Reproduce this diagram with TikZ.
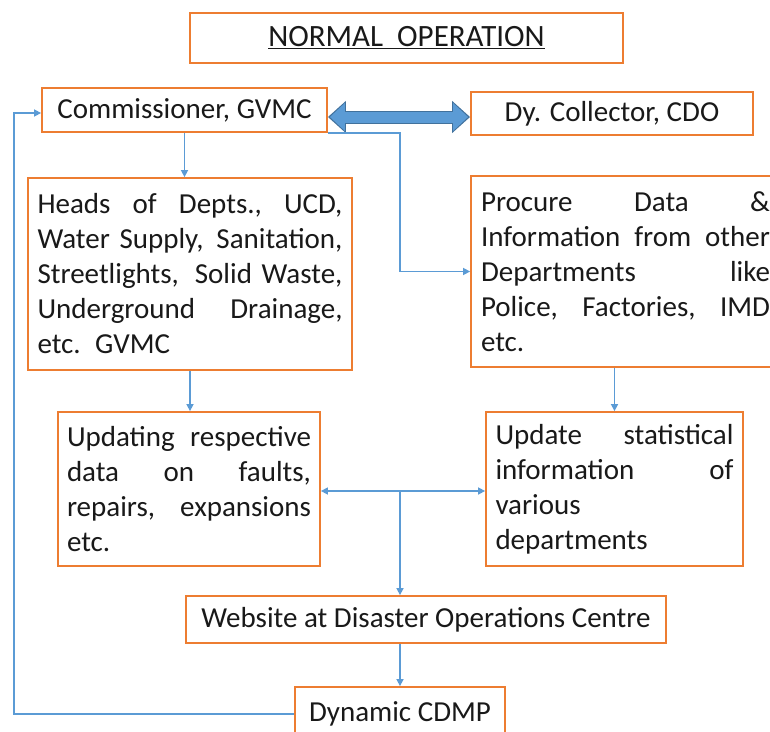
\documentclass[tikz,border=0pt]{standalone}
\usepackage{fontspec}
\setmainfont{Carlito}
\usetikzlibrary{arrows.meta}
\definecolor{boxorange}{RGB}{237,125,49}
\definecolor{linkblue}{RGB}{91,155,213}
\definecolor{arrowedge}{RGB}{65,113,156}
% one justified line of a given width; words are spread by \hfill
\newcommand{\jline}[2]{\leavevmode\hbox to #1{#2}}

\begin{document}
\begin{tikzpicture}[x=1pt,y=-1pt,
  box/.style={draw=boxorange, line width=1.8pt, fill=white, inner sep=0pt,
    font=\fontsize{29}{35}\selectfont, text=black!90},
  link/.style={draw=linkblue, line width=1.5pt, -{Triangle[length=7pt,width=7pt]}},
]
\useasboundingbox (0,0) rectangle (770,731);
\fill[white] (0,0) rectangle (770,731);

% boxes
\node[box, minimum width=433pt, minimum height=50pt, font=\fontsize{31}{36}\selectfont] (title) at (406.5,38)
  {\underline{NORMAL\ \ OPERATION}};
\node[box, minimum width=285pt, minimum height=44pt] (comm) at (184.5,110)
  {Commissioner, GVMC};
\node[box, minimum width=282pt, minimum height=43pt] (dy) at (612,113.5)
  {Dy. Collector, CDO};
\node[box, minimum width=324pt, minimum height=192pt, text width=305pt, align=left] (heads) at (190,274)
  {\jline{305pt}{Heads \hfill of \hfill Depts., \hfill UCD,}\\
   \jline{305pt}{Water Supply, \hfill Sanitation,}\\
   \jline{305pt}{Streetlights, \hfill Solid Waste,}\\
   \jline{305pt}{Underground \hfill Drainage,}\\
   etc. GVMC};
\node[box, minimum width=309pt, minimum height=191pt, text width=289pt, align=left] (proc) at (625.5,271.5)
  {\jline{289pt}{Procure \hfill Data \hfill \&}\\
   \jline{289pt}{Information \hfill from \hfill other}\\
   \jline{289pt}{Departments \hfill like}\\
   \jline{289pt}{Police, \hfill Factories, \hfill IMD}\\
   etc.};
\node[box, minimum width=262pt, minimum height=154pt, text width=244pt, align=left] (upd) at (189,489)
  {\jline{244pt}{Updating \hfill respective}\\
   \jline{244pt}{data \hfill on \hfill faults,}\\
   \jline{244pt}{repairs, \hfill expansions}\\
   etc.};
\node[box, minimum width=257pt, minimum height=154pt, text width=238pt, align=left] (stat) at (614.5,489)
  {\jline{238pt}{Update \hfill statistical}\\
   \jline{238pt}{information \hfill of}\\
   various\\
   departments};
\node[box, minimum width=480pt, minimum height=47pt] (web) at (426,619.5)
  {Website at Disaster Operations Centre};
\node[box, minimum width=210pt, minimum height=54pt] (dyn) at (400,714)
  {Dynamic CDMP};

% routing points
\coordinate (turn) at (400,0);
\coordinate (hub) at (400,491);
\coordinate (loop) at (14,0);
\coordinate (band) at (0,117);

% two-way block arrow between the two officers (dark rim, lighter body)
\draw[draw=arrowedge, line width=13pt,
  {Triangle[length=18pt,width=31pt]}-{Triangle[length=18pt,width=31pt]}]
  (comm.east |- band) -- (dy.west |- band);
\draw[draw=linkblue, line width=11pt,
  {Triangle[length=15pt,width=27pt]}-{Triangle[length=15pt,width=27pt]}]
  ([xshift=2pt]comm.east |- band) -- ([xshift=-2pt]dy.west |- band);

% connectors
\draw[link] (comm.south) -- (comm.south |- heads.north);
\draw[link] (comm.south east) -- (comm.south east -| turn) |- (proc.west);
\draw[link] (heads.south) -- (heads.south |- upd.north);
\draw[link] (proc.south -| stat.north) -- (stat.north);
\draw[link] (hub) -- (upd.east |- hub);
\draw[link] (hub) -- (stat.west |- hub);
\draw[link] (hub) -- (hub |- web.north);
\draw[link] (web.south -| dyn.north) -- (dyn.north);
\draw[link] (dyn.west) -- (dyn.west -| loop) |- ([yshift=-3pt]comm.west);
\end{tikzpicture}
\end{document}
